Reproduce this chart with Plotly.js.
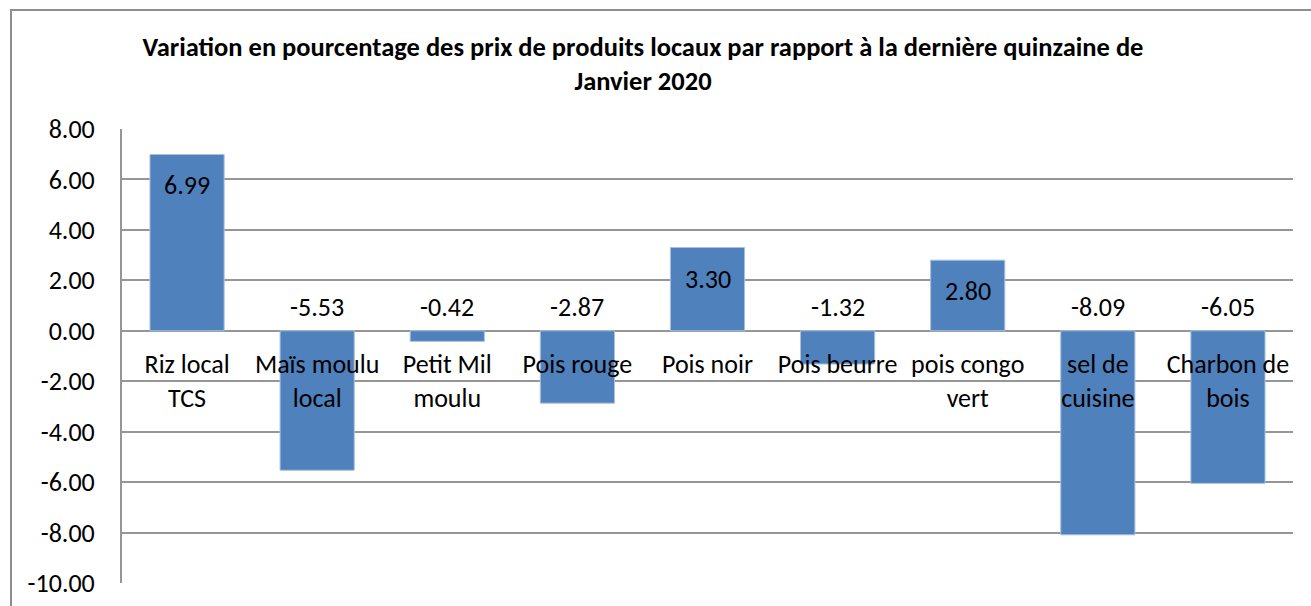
<!DOCTYPE html>
<html>
<head>
<meta charset="utf-8">
<script src="https://cdn.plot.ly/plotly-3.0.1.min.js"></script>
<style>
  html, body { margin: 0; padding: 0; background: #ffffff; }
  #chart { width: 1311px; height: 606px; position: absolute; left: 0; top: 0; }
  #frame { position: absolute; left: 10px; top: 9px; width: 1400px; height: 700px;
           border: 2px solid #8e8e8e; pointer-events: none; box-sizing: border-box; }
</style>
</head>
<body>
<div id="chart"></div>
<div id="frame"></div>
<script>
const categories = [
  "Riz local<br>TCS",
  "Maïs moulu<br>local",
  "Petit Mil<br>moulu",
  "Pois rouge",
  "Pois noir",
  "Pois beurre",
  "pois congo<br>vert",
  "sel de<br>cuisine",
  "Charbon de<br>bois"
];
const values = [6.99, -5.53, -0.42, -2.87, 3.30, -1.32, 2.80, -8.09, -6.05];
const yTickValues = [-10, -8, -6, -4, -2, 0, 2, 4, 6, 8];
const titleLines = [
  "Variation en pourcentage des prix de produits locaux par rapport à la dernière quinzaine de",
  "Janvier 2020"
];

const FONT = "Carlito, Lato, 'Open Sans', sans-serif";
const GRID = "#969696";
const yRange = [-10, 8];

const annotations = values.map((v, i) => {
  const pos = v >= 0;
  return {
    x: categories[i], y: pos ? v : 0, xref: "x", yref: "y",
    text: v.toFixed(2), showarrow: false,
    yanchor: pos ? "top" : "bottom",
    yshift: pos ? -13 : 6,
    font: { family: FONT, size: 26, color: "#000000" }
  };
});

const trace = {
  type: "bar",
  x: categories,
  y: values,
  marker: { color: "#4F81BD", line: { color: "#a9c1de", width: 1 } },
  hoverinfo: "x+y"
};

const layout = {
  width: 1311, height: 606,
  margin: { l: 122, r: 18, t: 129, b: 23, pad: 0 },
  paper_bgcolor: "#ffffff", plot_bgcolor: "#ffffff",
  showlegend: false,
  bargap: 0.43,
  title: {
    text: "<b>" + titleLines.join("<br>") + "</b>",
    font: { family: FONT, size: 26.5, color: "#000000" },
    xref: "container", yref: "container",
    x: 643 / 1311, xanchor: "center",
    y: 1 - 56 / 606, yanchor: "top"
  },
  xaxis: {
    type: "category",
    anchor: "free",
    position: (0 - yRange[0]) / (yRange[1] - yRange[0]),
    showline: false, showgrid: false, zeroline: false,
    ticks: "",
    ticklabelstandoff: 15,
    tickfont: { family: FONT, size: 26, color: "#000000" },
    tickangle: 0
  },
  yaxis: {
    range: yRange,
    domain: [0, 1],
    tickvals: yTickValues,
    ticktext: yTickValues.map(v => v.toFixed(2)),
    showgrid: true, gridcolor: GRID, gridwidth: 2,
    zeroline: true, zerolinecolor: GRID, zerolinewidth: 2,
    showline: true, linecolor: GRID, linewidth: 2,
    ticks: "",
    ticklabelstandoff: 20,
    tickfont: { family: FONT, size: 26, color: "#000000" }
  },
  annotations: annotations
};

Plotly.newPlot("chart", [trace], layout, { displayModeBar: false, staticPlot: true });
</script>
</body>
</html>
